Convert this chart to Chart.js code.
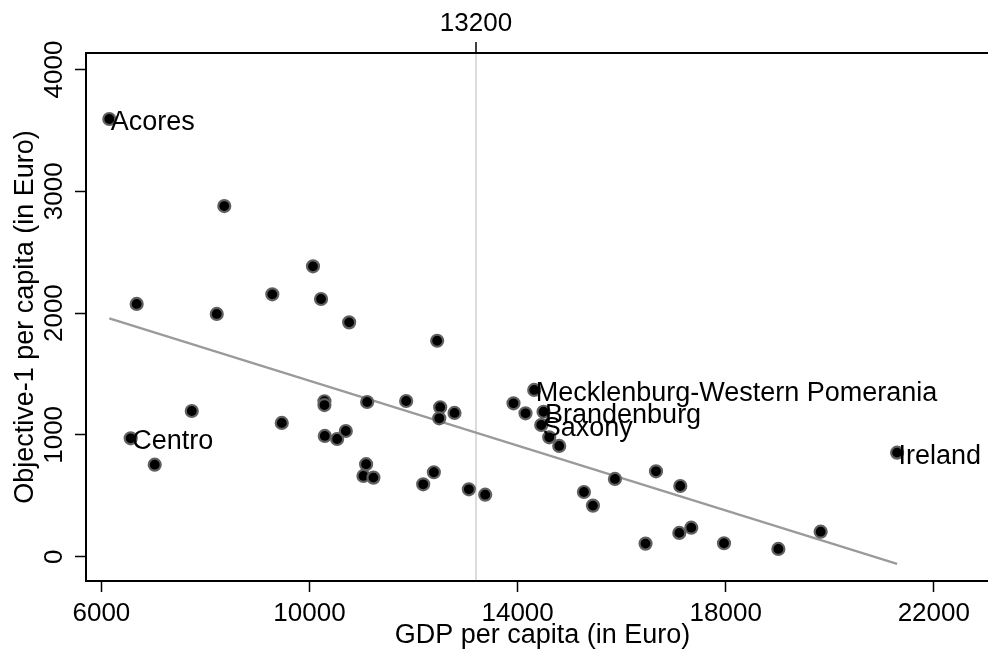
<!DOCTYPE html>
<html><head><meta charset="utf-8">
<script src="https://cdn.jsdelivr.net/npm/chart.js@4.4.0/dist/chart.umd.min.js"></script>
<style>html,body{margin:0;padding:0;overflow:hidden;background:#fff}canvas{display:block}</style>
</head><body>
<canvas id="c" width="1010" height="653" style="width:1010px;height:653px"></canvas>
<script>
// GDP per capita (Euro) for each Objective-1 region
const gdp = [6152, 8362, 10067, 9285, 10222, 6678, 8217, 10762, 12454, 7737,
  6563, 7025, 9467, 10287, 10287, 11108, 11858, 12512, 12494, 12787,
  10294, 10531, 10698, 11088, 11037, 11229, 12390, 12185, 13063, 13377,
  14319, 13921, 14152, 14498, 14454, 14608, 14800, 21294, 15871, 16660,
  17127, 15275, 15448, 16459, 17108, 17338, 17967, 19012, 19825];
// Objective-1 payments per capita (Euro)
const obj1 = [3594, 2879, 2384, 2154, 2116, 2075, 1993, 1924, 1773, 1196,
  972, 755, 1098, 1276, 1245, 1270, 1278, 1227, 1136, 1180,
  991, 966, 1032, 759, 663, 649, 693, 594, 553, 509,
  1369, 1259, 1177, 1190, 1081, 980, 909, 854, 638, 701,
  580, 531, 419, 107, 195, 238, 110, 63, 205];
const regionLabels = ['Acores', '', '', '', '', '', '', '', '', '',
  'Centro', '', '', '', '', '', '', '', '', '',
  '', '', '', '', '', '', '', '', '', '',
  'Mecklenburg-Western Pomerania', '', '', 'Brandenburg', 'Saxony', '', '', 'Ireland', '', '',
  '', '', '', '', '', '', '', '', ''];
// fitted line end points
const fitGdp = [6152, 21294];
const fitObj1 = [1957, -60];
const xTickValues = [6000, 10000, 14000, 18000, 22000];
const yTickValues = [0, 1000, 2000, 3000, 4000];
const refLineValues = [13200];

const FONT = 'Liberation Sans';
const FSIZE = 27;
const TSIZE = 26;
const pts = gdp.map((g, i) => ({x: g, y: obj1[i]}));
const fitPts = fitGdp.map((g, i) => ({x: g, y: fitObj1[i]}));

const labelPlugin = {
  id: 'pointLabels',
  afterDatasetsDraw(chart) {
    const ctx = chart.ctx, xs = chart.scales.x, ys = chart.scales.y;
    ctx.save();
    ctx.font = FSIZE + 'px "' + FONT + '"';
    ctx.fillStyle = '#000';
    ctx.textAlign = 'left';
    ctx.textBaseline = 'alphabetic';
    regionLabels.forEach((lab, i) => {
      if (!lab) return;
      const px = xs.getPixelForValue(gdp[i]);
      const py = ys.getPixelForValue(obj1[i]);
      ctx.fillText(lab, px + 1.5, py + 11);
    });
    ctx.restore();
  }
};

const setTicks = (vals) => (scale) => { scale.ticks = vals.map(v => ({value: v})); };
const plain = (v) => String(v);

new Chart(document.getElementById('c'), {
  data: {
    datasets: [
      {type: 'scatter', data: pts, backgroundColor: '#000', borderColor: '#606060',
       borderWidth: 2.2, pointRadius: 6, pointHoverRadius: 6, xAxisID: 'x', yAxisID: 'y'},
      {type: 'line', data: fitPts, borderColor: '#9a9a9a', borderWidth: 2.3, pointRadius: 0,
       fill: false, tension: 0, xAxisID: 'x', yAxisID: 'y'}
    ]
  },
  options: {
    responsive: false,
    animation: false,
    events: [],
    layout: {padding: {left: 0, right: 11, top: 0, bottom: 0}},
    plugins: {legend: {display: false}, tooltip: {enabled: false}, title: {display: false}},
    scales: {
      x: {
        type: 'linear', position: 'bottom', min: 5704, max: 23253,
        afterBuildTicks: setTicks(xTickValues),
        afterFit: (s) => { s.height = 72; },
        border: {display: true, color: '#000', width: 2},
        grid: {drawOnChartArea: false, drawTicks: true, tickLength: 11, tickColor: '#000', tickWidth: 1.5},
        ticks: {autoSkip: false, maxRotation: 0, minRotation: 0, padding: 6, color: '#000',
                callback: plain, font: {family: FONT, size: TSIZE}},
        title: {display: true, text: 'GDP per capita (in Euro)', color: '#000',
                font: {family: FONT, size: FSIZE}, padding: {top: 0, bottom: 1.5}}
      },
      x2: {
        type: 'linear', position: 'top', min: 5704, max: 23253,
        afterBuildTicks: setTicks(refLineValues),
        afterFit: (s) => { s.height = 53; },
        border: {display: true, color: '#000', width: 2},
        grid: {drawOnChartArea: true, color: '#dcdcdc', lineWidth: 2, drawTicks: true,
               tickLength: 11, tickColor: '#000', tickWidth: 1.5},
        ticks: {autoSkip: false, maxRotation: 0, minRotation: 0, padding: 3, color: '#000',
                callback: plain, font: {family: FONT, size: TSIZE}}
      },
      y: {
        type: 'linear', position: 'left', min: -200, max: 4136,
        afterBuildTicks: setTicks(yTickValues),
        afterFit: (s) => { s.width = 86; },
        border: {display: true, color: '#000', width: 2},
        grid: {drawOnChartArea: false, drawTicks: true, tickLength: 11, tickColor: '#000', tickWidth: 1.5},
        ticks: {autoSkip: false, minRotation: 90, maxRotation: 90, crossAlign: 'center',
                padding: -9, color: '#000', callback: plain, font: {family: FONT, size: TSIZE}},
        title: {display: true, text: 'Objective-1 per capita (in Euro)', color: '#000',
                font: {family: FONT, size: FSIZE}, padding: {top: 9, bottom: 0}}
      }
    }
  },
  plugins: [labelPlugin]
});
</script>
</body></html>
